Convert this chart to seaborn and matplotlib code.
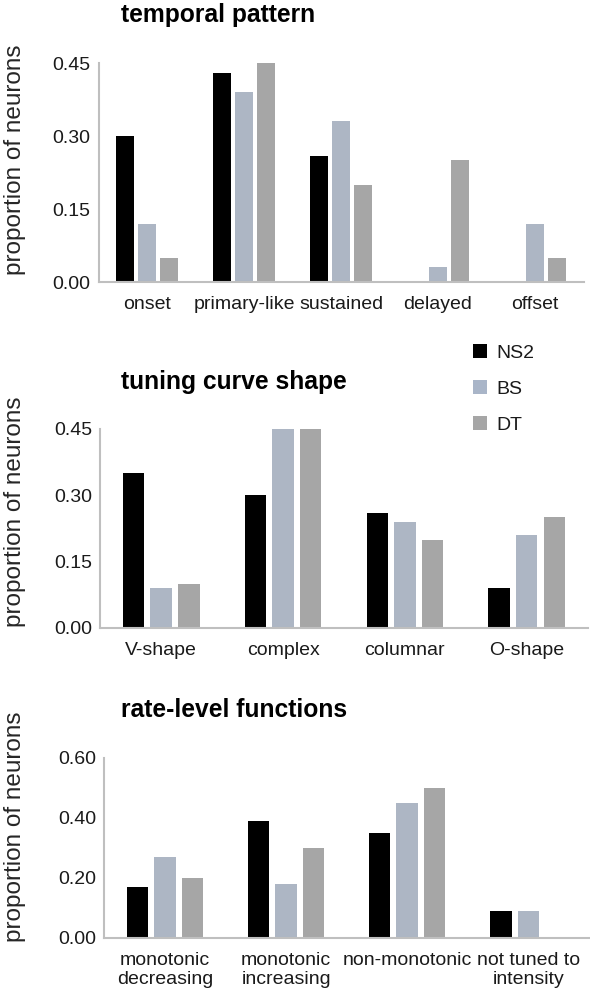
import pandas as pd
import seaborn as sns
import matplotlib.pyplot as plt
from matplotlib.patches import Patch

groups = ["NS2", "BS", "DT"]
colors = ["#000000", "#a9b5c8", "#a6a6a6"]

temporal_cats = ["onset", "primary-like", "sustained", "delayed", "offset"]
temporal_ns2 = [0.30, 0.43, 0.26, 0.0, 0.0]
temporal_bs = [0.12, 0.39, 0.33, 0.03, 0.12]
temporal_dt = [0.05, 0.45, 0.20, 0.25, 0.05]

tuning_cats = ["V-shape", "complex", "columnar", "O-shape"]
tuning_ns2 = [0.35, 0.30, 0.26, 0.09]
tuning_bs = [0.09, 0.45, 0.24, 0.21]
tuning_dt = [0.10, 0.45, 0.20, 0.25]

rate_cats = ["monotonic\ndecreasing", "monotonic\nincreasing", "non-monotonic",
             "not tuned to\nintensity"]
rate_ns2 = [0.17, 0.39, 0.35, 0.09]
rate_bs = [0.27, 0.18, 0.45, 0.09]
rate_dt = [0.20, 0.30, 0.50, 0.0]

temporal_ticks = [0.00, 0.15, 0.30, 0.45]
tuning_ticks = [0.00, 0.15, 0.30, 0.45]
rate_ticks = [0.00, 0.20, 0.40, 0.60]


def long_form(cats, ns2, bs, dt):
    rows = []
    for g, vals in zip(groups, [ns2, bs, dt]):
        for c, v in zip(cats, vals):
            rows.append({"category": c, "group": g, "proportion": v})
    return pd.DataFrame(rows)


sns.set_style("white")
plt.rcParams["font.family"] = ["Liberation Sans", "DejaVu Sans"]
text_color = "#1a1a1a"
spine_color = "#bfbfbf"

fig = plt.figure(figsize=(5.9, 9.93), dpi=100)

# title, categories, series, ticks, axes rect, title y, ylabel coords
panels = [
    ("temporal pattern", temporal_cats, temporal_ns2, temporal_bs, temporal_dt,
     temporal_ticks, [0.167, 0.716, 0.822, 0.2205], 0.985, (-0.1495, 0.557)),
    ("tuning curve shape", tuning_cats, tuning_ns2, tuning_bs, tuning_dt,
     tuning_ticks, [0.170, 0.3676, 0.826, 0.2004], 0.615, (-0.153, 0.583)),
    ("rate-level functions", rate_cats, rate_ns2, rate_bs, rate_dt,
     rate_ticks, [0.177, 0.0554, 0.821, 0.1813], 0.285, (-0.162, 0.617)),
]

for title, cats, ns2, bs, dt, ticks, pos, ty, lab in panels:
    ax = fig.add_axes(pos)
    df = long_form(cats, ns2, bs, dt)
    sns.barplot(data=df, x="category", y="proportion", hue="group",
                order=cats, hue_order=groups, palette=colors,
                width=0.68, gap=0.22, linewidth=0, legend=False, ax=ax)
    ax.set_xlim(-0.5, len(cats) - 0.5)
    ax.set_ylim(0, ticks[-1])
    ax.set_yticks(ticks)
    ax.set_yticklabels([f"{t:.2f}" for t in ticks])
    ax.set_xlabel("")
    ax.set_ylabel("proportion of neurons", fontsize=17.5, color="#262626")
    ax.yaxis.set_label_coords(*lab)
    ax.tick_params(axis="x", length=0, pad=10, labelsize=14, colors=text_color)
    ax.tick_params(axis="y", direction="in", length=3, width=1, color=spine_color,
                   pad=6, labelsize=14, labelcolor=text_color)
    for s in ["top", "right"]:
        ax.spines[s].set_visible(False)
    for s in ["left", "bottom"]:
        ax.spines[s].set_color(spine_color)
        ax.spines[s].set_linewidth(1.5)
    fig.text(0.205, ty, title, fontsize=17.7, fontweight="bold", va="center",
             ha="left", color="#000000")

handles = [Patch(facecolor=c, edgecolor="none", label=g) for g, c in zip(groups, colors)]
fig.legend(handles=handles, loc="center left", bbox_to_anchor=(473 / 590, 1 - 389 / 993),
           frameon=False, fontsize=14, handlelength=0.72, handleheight=0.72,
           handletextpad=0.5, labelspacing=0.95, borderpad=0, borderaxespad=0,
           labelcolor=text_color)

fig.savefig("out.png", dpi=100)
